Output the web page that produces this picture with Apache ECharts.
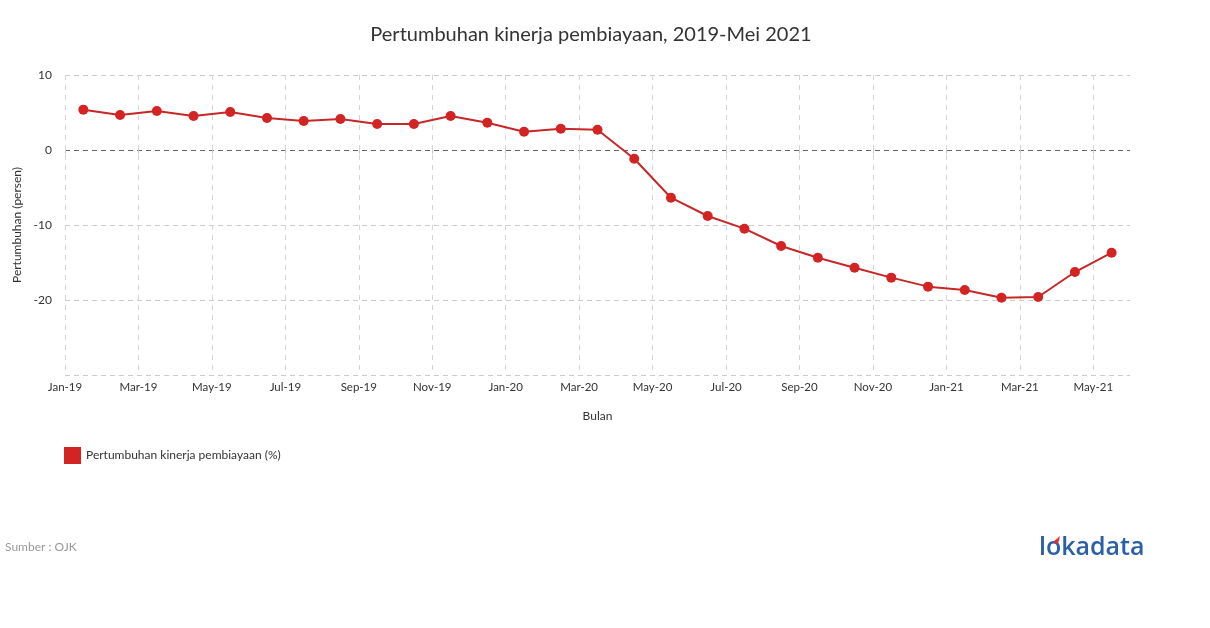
<!DOCTYPE html>
<html>
<head>
<meta charset="utf-8">
<script src="https://cdn.jsdelivr.net/npm/echarts@6/dist/echarts.min.js"></script>
<style>
html,body{margin:0;padding:0;background:#fff;}
#chart{width:1210px;height:628px;}
</style>
</head>
<body>
<div id="chart"></div>
<script>
const months = ["Jan-19","Feb-19","Mar-19","Apr-19","May-19","Jun-19","Jul-19","Aug-19","Sep-19","Oct-19","Nov-19","Dec-19",
  "Jan-20","Feb-20","Mar-20","Apr-20","May-20","Jun-20","Jul-20","Aug-20","Sep-20","Oct-20","Nov-20","Dec-20",
  "Jan-21","Feb-21","Mar-21","Apr-21","May-21"];
const growth = [5.38,4.67,5.2,4.53,5.07,4.27,3.87,4.13,3.47,3.47,4.53,3.64,2.44,2.84,2.71,
  -1.16,-6.36,-8.8,-10.49,-12.8,-14.36,-15.69,-17.02,-18.22,-18.67,-19.69,-19.6,-16.27,-13.69];
const tickLabels = ["Jan-19","Mar-19","May-19","Jul-19","Sep-19","Nov-19","Jan-20","Mar-20","May-20","Jul-20","Sep-20","Nov-20","Jan-21","Mar-21","May-21"];
const yTicks = [-30,-20,-10,0,10];

const FONT = 'Lato, "Noto Sans", sans-serif';
const tickIdx = tickLabels.map(t => months.indexOf(t));
const seriesData = growth.map((v,i) => [i + 0.5, v]);

const chart = echarts.init(document.getElementById('chart'));
chart.setOption({
  animation: false,
  textStyle: {fontFamily: FONT},
  title: {
    text: 'Pertumbuhan kinerja pembiayaan, 2019-Mei 2021',
    left: 586, top: 20, textAlign: 'center',
    textStyle: {fontSize: 20, fontWeight: 'normal', color: '#333', fontFamily: FONT}
  },
  grid: {left: 65, right: 80, top: 75, bottom: 253, containLabel: false},
  legend: {
    left: 59, top: 442, icon: 'rect', itemWidth: 17, itemHeight: 17, itemGap: 10,
    textStyle: {fontSize: 12, color: '#333', fontFamily: FONT},
    data: ['Pertumbuhan kinerja pembiayaan (%)']
  },
  xAxis: {
    type: 'value', min: 0, max: months.length, interval: 2,
    name: 'Bulan', nameLocation: 'middle', nameGap: 35,
    nameTextStyle: {fontSize: 12, color: '#333', fontFamily: FONT},
    axisLine: {show: false},
    axisTick: {show: true, length: 5, customValues: tickIdx, lineStyle: {color: '#ccc', type: 'dashed'}},
    axisLabel: {customValues: tickIdx, fontSize: 11.5, color: '#333', margin: 6, fontFamily: FONT,
      formatter: v => months[Math.round(v)] || ''},
    splitLine: {show: true, lineStyle: {color: '#d5d5d5', type: [5,5]}}
  },
  yAxis: {
    type: 'value', min: yTicks[0], max: yTicks[yTicks.length-1], interval: 10,
    name: 'Pertumbuhan (persen)', nameLocation: 'middle', nameGap: 36,
    nameTextStyle: {fontSize: 12, color: '#333', fontFamily: FONT},
    axisLine: {show: false}, axisTick: {show: false},
    axisLabel: {fontSize: 12, color: '#333', margin: 13, fontFamily: FONT,
      formatter: v => v === yTicks[0] ? '' : String(v)},
    splitLine: {show: true, lineStyle: {color: ['#ccc','#ccc','#ccc','#666','#ccc'], type: [5,4]}}
  },
  series: [{
    name: 'Pertumbuhan kinerja pembiayaan (%)',
    type: 'line',
    data: seriesData,
    symbol: 'circle', symbolSize: 10,
    lineStyle: {color: '#c62828', width: 2},
    itemStyle: {color: '#d32323'},
    z: 5
  }],
  graphic: [
    {type: 'text', left: 5, top: 541, style: {text: 'Sumber : OJK', fontSize: 12, fill: '#999', fontFamily: FONT}},
    {type: 'text', left: 1039, top: 535, style: {text: 'lokadata', fontSize: 25, fill: '#2b5fa8', fontWeight: 600, fontFamily: '"Open Sans", Lato, sans-serif'}},
    {type: 'polygon', shape: {points: [[1053,542],[1060,536],[1058,544]]}, style: {fill: '#e0322d'}}
  ]
});
</script>
</body>
</html>
